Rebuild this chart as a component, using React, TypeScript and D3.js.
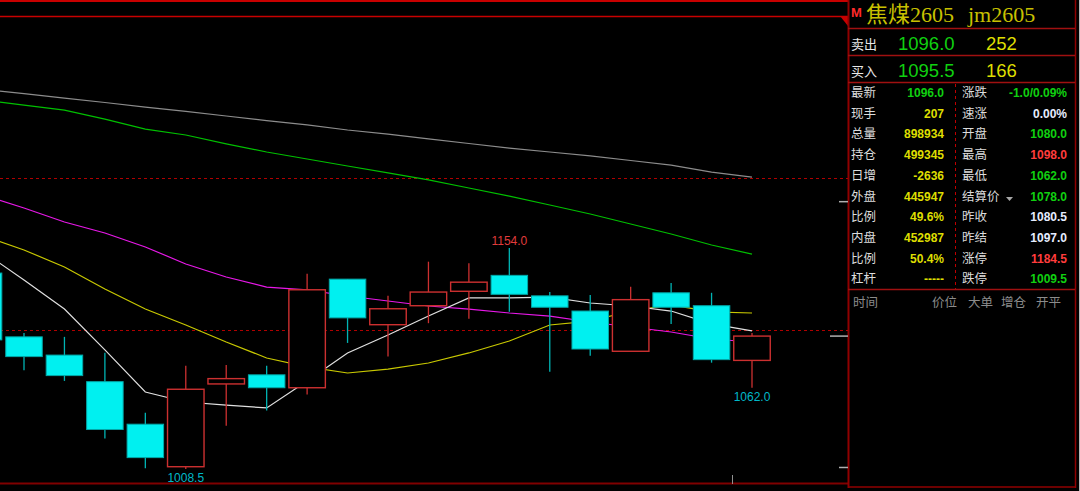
import * as d3 from 'd3';

// daily bars, index 0 is cut off at the left edge
const opens = [1137.5, 1095.5, 1083.5, 1066, 1038, 1010, 1064.5, 1070.5, 1062, 1133.5, 1103.5, 1116, 1125.5, 1136, 1122.5, 1112.5, 1086, 1124.5, 1116, 1080];
const highs = [1140, 1098, 1095.5, 1085, 1045.5, 1076.5, 1077, 1076.5, 1137, 1133.5, 1122.5, 1145, 1144, 1154, 1125, 1123, 1128.5, 1131, 1124.5, 1098];
const lows = [1090, 1073.5, 1066.5, 1028.5, 1009, 1008.5, 1037, 1047, 1057.5, 1091.5, 1082.5, 1104.5, 1107.5, 1112, 1072.5, 1083, 1086, 1104, 1078.5, 1062];
const closes = [1093.5, 1082.5, 1070, 1034.5, 1016, 1061, 1068, 1062, 1126.5, 1108, 1114, 1125, 1131.5, 1123.5, 1115, 1087.5, 1120, 1115, 1080.5, 1096];

// moving averages as drawn
const maWhite = [1151.4, 1132.9, 1113.8, 1086.9, 1059.2, 1052.6, 1050.6, 1048.7, 1066.4, 1084.9, 1096.7, 1109.2, 1121.1, 1121.1, 1121.7, 1117.8, 1115.8, 1112.5, 1104, 1099.4];
const maYellow = [1161.9, 1152.7, 1141.5, 1127, 1113.8, 1103.3, 1092.1, 1081.6, 1075.7, 1071.7, 1074.3, 1078.3, 1084.9, 1092.8, 1103.3, 1105.9, 1112.5, 1116.5, 1111.9, 1111.2];
const maMagenta = [1188.9, 1180.3, 1171.1, 1163.9, 1154.7, 1143.5, 1134.9, 1128.3, 1126.4, 1122.4, 1119.1, 1115.8, 1113.8, 1111.2, 1109.2, 1105.3, 1102, 1098.7, 1094.1, 1092.1];
const maGreen = [1251.4, 1248.1, 1244.8, 1238.9, 1232.3, 1228.4, 1222.5, 1217.2, 1212.6, 1208, 1203.4, 1198.8, 1193.5, 1188.2, 1182.3, 1176.4, 1169.8, 1163.2, 1156, 1150];
const maGrey = [1258.3, 1255.7, 1252.7, 1249.8, 1246.8, 1243.9, 1240.9, 1237.9, 1235, 1231.7, 1229, 1225.8, 1222.8, 1219.8, 1217.2, 1214.6, 1211.6, 1208.6, 1204, 1200.7];

const gridLevels = [1200, 1100];
const limitLevels = [1184.5, 1009.5];
const lastPrice = 1096.0;

const highMark = { idx: 13, label: '1154.0' };
const lowMarks = [{ idx: 5, label: '1008.5' }, { idx: 19, label: '1062.0' }];

const titleName = '焦煤2605';
const titleCode = 'jm2605';
const askRow = ['卖出', '1096.0', '252'];
const bidRow = ['买入', '1095.5', '166'];

const GREEN = '#10d010';
const YELLOW = '#dede00';
const WHITE = '#e6ecff';
const RED = '#ff3c3c';

const leftLabels = ['最新', '现手', '总量', '持仓', '日增', '外盘', '比例', '内盘', '比例', '杠杆'];
const leftValues = ['1096.0', '207', '898934', '499345', '-2636', '445947', '49.6%', '452987', '50.4%', '-----'];
const leftColors = [GREEN, YELLOW, YELLOW, YELLOW, YELLOW, YELLOW, YELLOW, YELLOW, YELLOW, YELLOW];
const rightLabels = ['涨跌', '速涨', '开盘', '最高', '最低', '结算价', '昨收', '昨结', '涨停', '跌停'];
const rightValues = ['-1.0/0.09%', '0.00%', '1080.0', '1098.0', '1062.0', '1078.0', '1080.5', '1097.0', '1184.5', '1009.5'];
const rightColors = [GREEN, WHITE, GREEN, RED, GREEN, GREEN, WHITE, WHITE, RED, GREEN];
const tickHeaders = [['时间', 853], ['价位', 932], ['大单', 968], ['增仓', 1001], ['开平', 1036]];

const W = 1080;
const H = 491;
const CHART_R = 848;
const NUM = '"Liberation Sans", Arial, sans-serif';
const CJK = '"Noto Sans CJK SC", sans-serif';
const SERIF = '"Liberation Serif", "Noto Sans CJK SC", serif';

export default function App() {
  const x = d3.scaleLinear().domain([1, 19]).range([24, 752]);
  const y = d3.scaleLinear().domain([1008.5, 1154]).range([469, 248]);
  const bw = 36.5;

  const line = d3.line<number>().x((_, i) => x(i)).y(d => y(d));
  const maLines = [
    [maGrey, '#8c8c8c'],
    [maGreen, '#00c000'],
    [maMagenta, '#e818e8'],
    [maYellow, '#c8c800'],
    [maWhite, '#e0e0e0'],
  ] as const;

  const rowY = (i: number) => 97 + i * 20.7;

  return (
    <div style={{ position: 'absolute', left: 0, top: 0, width: W, height: H, background: '#000' }}>
      <svg width={W} height={H} style={{ display: 'block' }}>
        <rect width={W} height={H} fill="#000" />
        <defs>
          <clipPath id="plot">
            <rect x={0} y={17} width={CHART_R} height={466} />
          </clipPath>
        </defs>

        {/* frame */}
        <line x1={0} x2={CHART_R} y1={1} y2={1} stroke="#c80000" strokeWidth={2} />
        <line x1={0} x2={CHART_R} y1={16.5} y2={16.5} stroke="#c80000" strokeWidth={1.5} />
        <polygon points="840,16 848,16 848,26" fill="#c80000" />
        <line x1={0} x2={CHART_R} y1={483.5} y2={483.5} stroke="#800000" strokeWidth={2} />
        <line x1={848.5} x2={848.5} y1={0} y2={488} stroke="#900000" strokeWidth={2} />
        <line x1={1075.5} x2={1075.5} y1={0} y2={488} stroke="#900000" strokeWidth={1.5} />
        <line x1={1079.5} x2={1079.5} y1={0} y2={H} stroke="#b8b8b8" strokeWidth={1} />

        <g clipPath="url(#plot)">
          {gridLevels.map(v => (
            <line key={v} x1={0} x2={CHART_R} y1={Math.round(y(v)) + 0.5} y2={Math.round(y(v)) + 0.5}
              stroke="#b00000" strokeDasharray="3,3" />
          ))}

          {maLines.map(([vals, c], k) => (
            <path key={k} d={line(vals as number[]) || ''} fill="none" stroke={c} strokeWidth={1.2} />
          ))}

          {opens.map((o, i) => {
            const c = closes[i];
            const cx = x(i);
            const up = c >= o;
            const top = y(Math.max(o, c));
            const bot = y(Math.min(o, c));
            if (up) {
              const col = '#cc3030';
              return (
                <g key={i}>
                  <line x1={cx} x2={cx} y1={y(highs[i])} y2={top} stroke={col} strokeWidth={1.3} />
                  <line x1={cx} x2={cx} y1={bot} y2={y(lows[i])} stroke={col} strokeWidth={1.3} />
                  <rect x={cx - bw / 2} y={top} width={bw} height={Math.max(bot - top, 1)} fill="#000" stroke={col} strokeWidth={1.4} />
                </g>
              );
            }
            return (
              <g key={i}>
                <line x1={cx} x2={cx} y1={y(highs[i])} y2={y(lows[i])} stroke="#00b4b4" strokeWidth={1.3} />
                <rect x={cx - bw / 2} y={top} width={bw} height={Math.max(bot - top, 1)} fill="#00f0f0" stroke="#00a8a8" strokeWidth={1} />
              </g>
            );
          })}
        </g>

        <text x={x(highMark.idx)} y={y(highs[highMark.idx]) - 3} fill="#e03c3c" fontFamily={NUM} fontSize={12} textAnchor="middle">
          {highMark.label}
        </text>
        {lowMarks.map(m => (
          <text key={m.label} x={x(m.idx)} y={y(lows[m.idx]) + 13} fill="#00b8c8" fontFamily={NUM} fontSize={12} textAnchor="middle">
            {m.label}
          </text>
        ))}

        {/* price ticks on the right edge of the plot */}
        <line x1={830} x2={848} y1={y(lastPrice)} y2={y(lastPrice)} stroke="#b0b0b0" strokeWidth={1.5} />
        {limitLevels.map(v => (
          <line key={v} x1={839} x2={848} y1={y(v)} y2={y(v)} stroke="#b0b0b0" strokeWidth={1.5} />
        ))}
        <line x1={732.5} x2={732.5} y1={475} y2={484} stroke="#909090" strokeWidth={1} />

        {/* quote panel */}
        <text x={851} y={17} fill="#ff2a2a" fontFamily={NUM} fontWeight="bold" fontSize={13}>M</text>
        <text x={866} y={22} fill="#c8c000" fontFamily={SERIF} fontSize={22}>{titleName}</text>
        <text x={968} y={22} fill="#c8c000" fontFamily={SERIF} fontSize={22}>{titleCode}</text>

        {[28, 55, 82].map(v => (
          <line key={v} x1={848} x2={1075} y1={v + 0.5} y2={v + 0.5} stroke="#a01010" strokeWidth={1.5} />
        ))}
        <line x1={848} x2={1075} y1={289.5} y2={289.5} stroke="#a01010" strokeWidth={1.5} />
        <line x1={848} x2={1075} y1={487} y2={487} stroke="#900000" strokeWidth={1.5} />
        <line x1={955.5} x2={955.5} y1={84} y2={289} stroke="#c00000" strokeDasharray="3,3" />

        {[askRow, bidRow].map((r, i) => {
          const by = 50 + i * 27;
          return (
            <g key={r[0]}>
              <text x={851} y={by - 1} fill="#e8e8e8" fontFamily={CJK} fontSize={13}>{r[0]}</text>
              <text x={898} y={by} fill={GREEN} fontFamily={NUM} fontSize={18.5}>{r[1]}</text>
              <text x={986} y={by} fill={YELLOW} fontFamily={NUM} fontSize={18.5}>{r[2]}</text>
            </g>
          );
        })}

        {leftLabels.map((lab, i) => (
          <g key={i}>
            <text x={851} y={rowY(i)} fill="#dcdcdc" fontFamily={CJK} fontSize={12.5}>{lab}</text>
            <text x={944} y={rowY(i)} fill={leftColors[i]} fontFamily={NUM} fontWeight="bold" fontSize={12} textAnchor="end">{leftValues[i]}</text>
            <text x={962} y={rowY(i)} fill="#dcdcdc" fontFamily={CJK} fontSize={12.5}>{rightLabels[i]}</text>
            <text x={1067} y={rowY(i)} fill={rightColors[i]} fontFamily={NUM} fontWeight="bold" fontSize={12} textAnchor="end">{rightValues[i]}</text>
          </g>
        ))}
        <polygon points="1006,197 1013,197 1009.5,201" fill="#a8a8a8" />

        {tickHeaders.map(([t, px]) => (
          <text key={t as string} x={px as number} y={307} fill="#8c8c8c" fontFamily={CJK} fontSize={12.5}>{t}</text>
        ))}
      </svg>
    </div>
  );
}
